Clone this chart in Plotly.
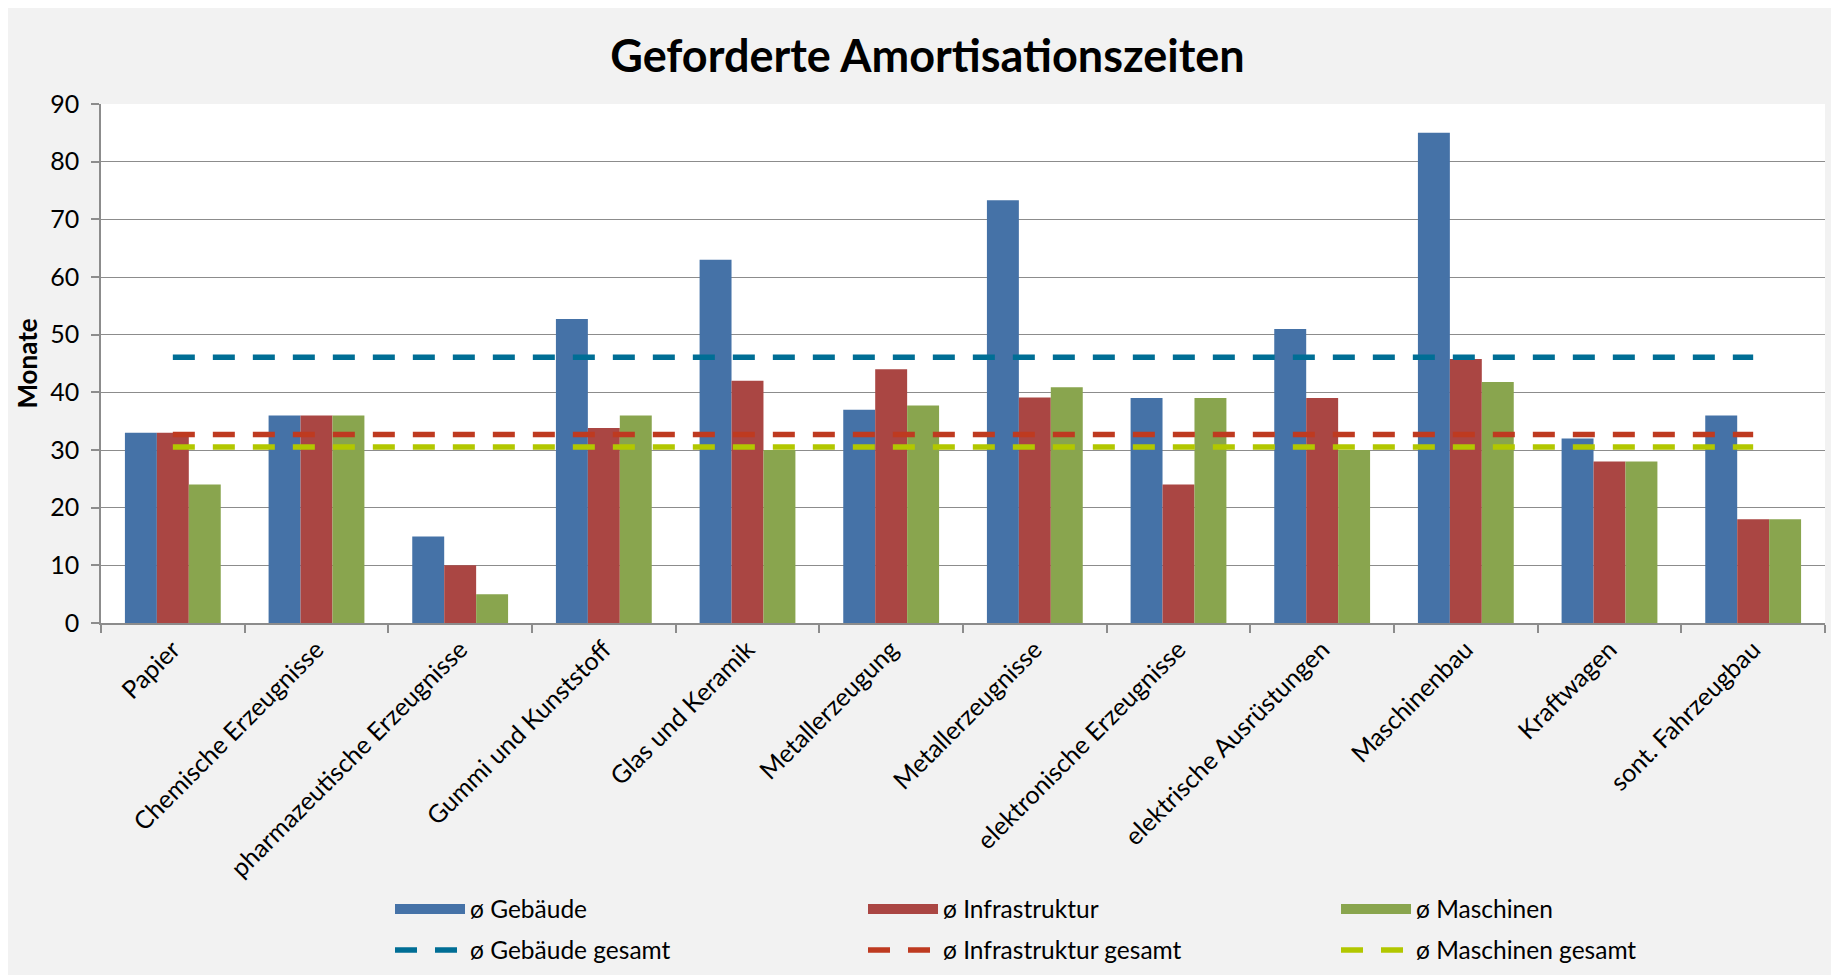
import plotly.graph_objects as go

categories = ["Papier", "Chemische Erzeugnisse", "pharmazeutische Erzeugnisse",
              "Gummi und Kunststoff", "Glas und Keramik", "Metallerzeugung",
              "Metallerzeugnisse", "elektronische Erzeugnisse", "elektrische Ausrüstungen",
              "Maschinenbau", "Kraftwagen", "sont. Fahrzeugbau"]
gebaeude = [33, 36, 15, 52.7, 63, 37, 73.3, 39, 51, 85, 32, 36]
infrastruktur = [33, 36, 10, 33.8, 42, 44, 39.1, 24, 39, 45.8, 28, 18]
maschinen = [24, 36, 5, 36, 30, 37.7, 40.9, 39, 30, 41.8, 28, 18]
gebaeude_gesamt = 46.1
infrastruktur_gesamt = 32.7
maschinen_gesamt = 30.5

FONT = "Lato"
W, H = 1839, 975
OFF = 8  # page body margin offset
# plot area in page coordinates: x 101..1825, y 104..624
L, T = 101 - OFF, 104 - OFF
R = W - (1825 - OFF)
B = H - (624 - OFF)
PW, PH = W - L - R, H - T - B


def px_x(page_px):
    return (page_px - OFF - L) / PW


def px_y(page_py):
    return (H - B - (page_py - OFF)) / PH


fig = go.Figure()
bar_series = [("ø Gebäude", gebaeude, "#4572A7"),
              ("ø Infrastruktur", infrastruktur, "#AA4643"),
              ("ø Maschinen", maschinen, "#89A54E")]
for name, vals, col in bar_series:
    fig.add_trace(go.Bar(x=categories, y=vals, name=name, marker_color=col,
                         marker_line_width=0, legendgroup=name, showlegend=False))
# legend entries drawn as wide colour swatches
for name, vals, col in bar_series:
    fig.add_trace(go.Scatter(x=[None], y=[None], name=name, mode="lines",
                             line=dict(color=col, width=15), legendgroup=name,
                             legend="legend", hoverinfo="skip"))

line_series = [("ø Gebäude gesamt", gebaeude_gesamt, "#006E95"),
               ("ø Infrastruktur gesamt", infrastruktur_gesamt, "#BE3A20"),
               ("ø Maschinen gesamt", maschinen_gesamt, "#B2C700")]
for name, v, col in line_series:
    fig.add_trace(go.Scatter(x=[categories[0], categories[-1]], y=[v, v], name=name,
                             mode="lines", line=dict(color=col, width=5.5, dash="22px,18px"),
                             legend="legend2"))

grid = "#8c8c8c"
legend_common = dict(orientation="h", xanchor="left", yanchor="middle",
                     entrywidth=388, entrywidthmode="pixels", itemwidth=70,
                     bgcolor="rgba(0,0,0,0)", font=dict(family=FONT, size=24.5, color="black"),
                     traceorder="normal")
fig.update_layout(
    width=W, height=H,
    margin=dict(l=L, r=R, t=T, b=B),
    paper_bgcolor="#f2f2f2",
    plot_bgcolor="white",
    font=dict(family=FONT, size=25, color="black"),
    title=dict(text="<b>Geforderte Amortisationszeiten</b>", x=0.5, xanchor="center",
               y=1 - (56 - OFF) / H, yanchor="middle", yref="container",
               font=dict(family=FONT, size=45, color="black")),
    barmode="group",
    bargap=0.333,
    bargroupgap=0,
    xaxis=dict(showgrid=False, showline=True, linecolor=grid, linewidth=2,
               ticks="outside", ticklen=8, tickcolor=grid, tickwidth=1.5,
               tickson="boundaries", tickangle=-45, automargin=False,
               tickfont=dict(family=FONT, size=25, color="black")),
    yaxis=dict(range=[0, 90], dtick=10, showgrid=True, gridcolor=grid, gridwidth=1.4,
               showline=True, linecolor=grid, linewidth=1.5,
               ticks="outside", ticklen=8, tickcolor=grid, tickwidth=1.5,
               ticklabelstandoff=7, zeroline=False, automargin=False,
               tickfont=dict(family=FONT, size=25, color="black"),
               title=dict(text="<b>Monate</b>", standoff=5,
                          font=dict(family=FONT, size=26, color="black"))),
    legend=dict(x=px_x(390), y=px_y(909), **legend_common),
    legend2=dict(x=px_x(390), y=px_y(950), **legend_common),
    showlegend=True,
)

fig.write_html("out.html")
